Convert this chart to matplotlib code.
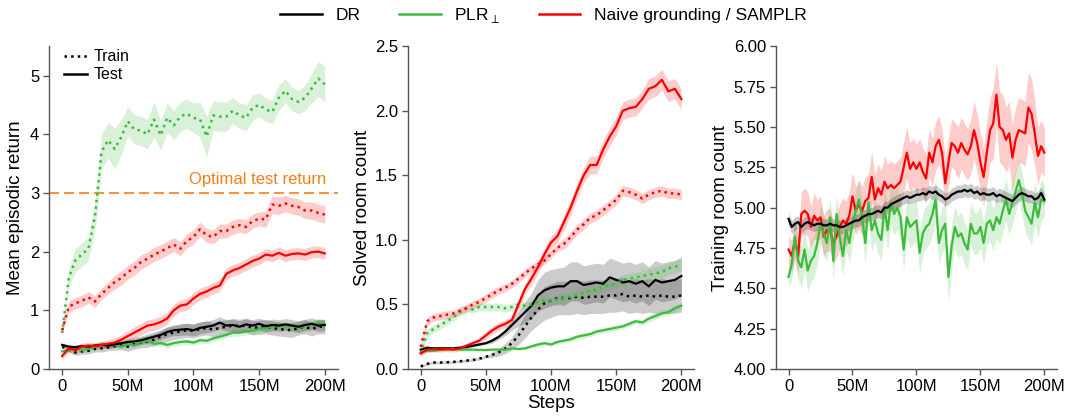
import numpy as np
import matplotlib
matplotlib.use("Agg")
import matplotlib.pyplot as plt
from matplotlib.lines import Line2D

plt.rcParams['font.family'] = ['Liberation Sans', 'DejaVu Sans']

# ---- data: steps in millions ----
steps5 = np.arange(0, 201, 5)      # panels 1, 2
steps25 = np.arange(0, 200.1, 2.5)  # panel 3

# Panel 1: mean episodic return
ret_plr_train = [0.61, 1.55, 1.85, 1.95, 2.05, 2.6, 3.7, 3.9, 3.75, 3.95, 4.22, 4.08, 4.06, 4.0, 4.25,
                 3.98, 4.28, 4.15, 4.3, 4.35, 4.28, 4.25, 3.96, 4.32, 4.3, 4.3, 4.4, 4.32, 4.28, 4.45,
                 4.5, 4.42, 4.38, 4.62, 4.74, 4.6, 4.55, 4.62, 4.78, 4.95, 4.85]
ret_plr_train_sd = [0.05, 0.15, 0.2, 0.2, 0.2, 0.25, 0.3, 0.3, 0.35, 0.3, 0.25, 0.25, 0.25, 0.25, 0.3,
                    0.25, 0.25, 0.25, 0.25, 0.25, 0.25, 0.3, 0.35, 0.25, 0.25, 0.25, 0.22, 0.22, 0.22, 0.22,
                    0.2, 0.2, 0.2, 0.22, 0.2, 0.2, 0.2, 0.22, 0.25, 0.3, 0.3]
ret_samplr_train = [0.66, 1.06, 1.12, 1.16, 1.22, 1.15, 1.28, 1.38, 1.48, 1.55, 1.65, 1.72, 1.82, 1.88, 1.95,
                    2.0, 2.06, 2.12, 2.05, 2.18, 2.25, 2.38, 2.28, 2.25, 2.35, 2.35, 2.42, 2.45, 2.42, 2.52,
                    2.56, 2.55, 2.8, 2.78, 2.82, 2.78, 2.76, 2.7, 2.7, 2.66, 2.63]
ret_samplr_train_sd = [0.05, 0.1, 0.1, 0.1, 0.1, 0.1, 0.1, 0.1, 0.12, 0.12, 0.12, 0.12, 0.12, 0.12, 0.12,
                       0.12, 0.12, 0.12, 0.12, 0.12, 0.12, 0.12, 0.12, 0.12, 0.12, 0.12, 0.12, 0.12, 0.12, 0.12,
                       0.12, 0.14, 0.15, 0.15, 0.14, 0.14, 0.14, 0.14, 0.15, 0.15, 0.15]
ret_samplr_test = [0.22, 0.35, 0.32, 0.38, 0.4, 0.39, 0.41, 0.43, 0.45, 0.5, 0.56, 0.62, 0.68, 0.74, 0.76,
                   0.8, 0.86, 1.0, 1.08, 1.1, 1.2, 1.28, 1.32, 1.38, 1.42, 1.62, 1.68, 1.72, 1.78, 1.84,
                   1.88, 1.95, 1.93, 1.98, 1.93, 1.96, 1.97, 1.95, 1.99, 2.0, 1.97]
ret_samplr_test_sd = [0.05, 0.06, 0.06, 0.06, 0.06, 0.06, 0.06, 0.07, 0.08, 0.08, 0.09, 0.1, 0.1, 0.1, 0.1,
                      0.1, 0.1, 0.1, 0.1, 0.1, 0.1, 0.1, 0.1, 0.1, 0.1, 0.1, 0.1, 0.1, 0.1, 0.1,
                      0.1, 0.1, 0.1, 0.1, 0.1, 0.1, 0.1, 0.1, 0.1, 0.1, 0.1]
ret_dr_test = [0.41, 0.38, 0.37, 0.39, 0.38, 0.4, 0.41, 0.4, 0.42, 0.44, 0.46, 0.47, 0.49, 0.52, 0.55,
               0.58, 0.63, 0.66, 0.67, 0.68, 0.66, 0.7, 0.72, 0.74, 0.79, 0.74, 0.75, 0.72, 0.76, 0.74,
               0.77, 0.73, 0.75, 0.74, 0.76, 0.74, 0.72, 0.75, 0.77, 0.74, 0.75]
ret_dr_test_sd = [0.03, 0.03, 0.04, 0.04, 0.04, 0.04, 0.05, 0.05, 0.05, 0.06, 0.06, 0.07, 0.07, 0.08, 0.08,
                  0.08, 0.09, 0.09, 0.1, 0.1, 0.1, 0.1, 0.1, 0.1, 0.1, 0.1, 0.1, 0.1, 0.1, 0.1,
                  0.1, 0.1, 0.1, 0.1, 0.1, 0.1, 0.1, 0.1, 0.1, 0.1, 0.1]
ret_dr_train = [0.38, 0.33, 0.28, 0.3, 0.31, 0.34, 0.35, 0.37, 0.39, 0.4, 0.38, 0.42, 0.45, 0.47, 0.5,
                0.55, 0.59, 0.62, 0.64, 0.66, 0.65, 0.68, 0.7, 0.67, 0.7, 0.72, 0.74, 0.73, 0.74, 0.7,
                0.71, 0.72, 0.7, 0.68, 0.67, 0.66, 0.7, 0.72, 0.68, 0.72, 0.72]
ret_dr_train_sd = [0.03, 0.04, 0.05, 0.05, 0.05, 0.05, 0.06, 0.06, 0.07, 0.07, 0.08, 0.08, 0.09, 0.1, 0.1,
                   0.11, 0.12, 0.12, 0.12, 0.12, 0.12, 0.12, 0.12, 0.12, 0.12, 0.12, 0.12, 0.12, 0.12, 0.12,
                   0.12, 0.12, 0.12, 0.12, 0.12, 0.12, 0.12, 0.12, 0.12, 0.12, 0.12]
ret_plr_test = [0.3, 0.32, 0.36, 0.32, 0.34, 0.38, 0.42, 0.4, 0.41, 0.38, 0.42, 0.4, 0.46, 0.48, 0.43,
                0.44, 0.41, 0.44, 0.46, 0.47, 0.45, 0.49, 0.48, 0.52, 0.55, 0.58, 0.62, 0.62, 0.64, 0.65,
                0.68, 0.7, 0.72, 0.74, 0.72, 0.74, 0.7, 0.74, 0.75, 0.78, 0.76]
ret_plr_test_sd = [0.04, 0.04, 0.04, 0.04, 0.04, 0.04, 0.04, 0.04, 0.04, 0.04, 0.04, 0.04, 0.05, 0.05, 0.05,
                   0.05, 0.05, 0.05, 0.05, 0.05, 0.05, 0.05, 0.05, 0.05, 0.05, 0.05, 0.06, 0.06, 0.06, 0.06,
                   0.06, 0.06, 0.06, 0.06, 0.06, 0.06, 0.07, 0.07, 0.07, 0.08, 0.08]
OPTIMAL_RETURN = 3.0

# Panel 2: solved room count
sol_samplr_test = [0.12, 0.15, 0.155, 0.15, 0.155, 0.15, 0.16, 0.18, 0.2, 0.22, 0.26, 0.3, 0.33, 0.35, 0.38,
                   0.5, 0.62, 0.7, 0.79, 0.89, 0.98, 1.03, 1.14, 1.25, 1.38, 1.5, 1.58, 1.58, 1.7, 1.8,
                   1.88, 2.0, 2.02, 2.03, 2.09, 2.17, 2.19, 2.24, 2.15, 2.17, 2.09]
sol_samplr_test_sd = [0.02, 0.02, 0.02, 0.02, 0.02, 0.02, 0.02, 0.02, 0.02, 0.02, 0.03, 0.03, 0.03, 0.03, 0.03,
                      0.04, 0.04, 0.05, 0.05, 0.05, 0.05, 0.05, 0.06, 0.06, 0.06, 0.06, 0.07, 0.07, 0.07, 0.07,
                      0.07, 0.07, 0.07, 0.07, 0.07, 0.08, 0.08, 0.08, 0.08, 0.08, 0.08]
sol_samplr_train = [0.17, 0.37, 0.4, 0.41, 0.42, 0.43, 0.45, 0.47, 0.5, 0.52, 0.55, 0.58, 0.61, 0.63, 0.66,
                    0.7, 0.74, 0.78, 0.81, 0.84, 0.89, 0.94, 0.97, 1.02, 1.08, 1.12, 1.17, 1.19, 1.23, 1.27,
                    1.31, 1.38, 1.37, 1.35, 1.32, 1.35, 1.37, 1.38, 1.36, 1.36, 1.35]
sol_samplr_train_sd = [0.02, 0.03, 0.03, 0.03, 0.03, 0.03, 0.03, 0.03, 0.03, 0.03, 0.03, 0.03, 0.03, 0.03, 0.03,
                       0.03, 0.03, 0.03, 0.03, 0.03, 0.03, 0.03, 0.04, 0.04, 0.04, 0.04, 0.04, 0.04, 0.04, 0.04,
                       0.04, 0.04, 0.04, 0.04, 0.04, 0.04, 0.04, 0.04, 0.04, 0.04, 0.04]
sol_dr_test = [0.15, 0.165, 0.16, 0.16, 0.16, 0.16, 0.165, 0.17, 0.18, 0.19, 0.2, 0.22, 0.25, 0.29, 0.34,
               0.39, 0.44, 0.49, 0.57, 0.61, 0.63, 0.64, 0.64, 0.68, 0.68, 0.65, 0.66, 0.67, 0.66, 0.71,
               0.69, 0.67, 0.68, 0.66, 0.68, 0.64, 0.69, 0.67, 0.68, 0.69, 0.72]
sol_dr_test_sd = [0.01, 0.01, 0.01, 0.01, 0.01, 0.01, 0.01, 0.01, 0.01, 0.01, 0.01, 0.02, 0.02, 0.03, 0.04,
                  0.06, 0.08, 0.1, 0.12, 0.14, 0.14, 0.14, 0.15, 0.15, 0.15, 0.15, 0.15, 0.15, 0.15, 0.15,
                  0.15, 0.15, 0.15, 0.15, 0.15, 0.15, 0.15, 0.15, 0.15, 0.15, 0.15]
sol_dr_train = [0.02, 0.04, 0.05, 0.05, 0.052, 0.055, 0.06, 0.065, 0.07, 0.08, 0.095, 0.11, 0.13, 0.16, 0.2,
                0.26, 0.33, 0.4, 0.46, 0.51, 0.53, 0.55, 0.55, 0.55, 0.56, 0.55, 0.56, 0.56, 0.56, 0.57,
                0.57, 0.58, 0.56, 0.57, 0.56, 0.57, 0.56, 0.57, 0.56, 0.56, 0.57]
sol_dr_train_sd = [0.01, 0.01, 0.01, 0.01, 0.01, 0.01, 0.01, 0.01, 0.01, 0.01, 0.01, 0.02, 0.03, 0.04, 0.05,
                   0.07, 0.09, 0.1, 0.12, 0.13, 0.13, 0.13, 0.13, 0.13, 0.13, 0.13, 0.13, 0.13, 0.13, 0.13,
                   0.13, 0.13, 0.13, 0.13, 0.13, 0.13, 0.13, 0.13, 0.13, 0.13, 0.13]
sol_plr_train = [0.12, 0.28, 0.31, 0.34, 0.37, 0.4, 0.44, 0.47, 0.46, 0.48, 0.48, 0.48, 0.48, 0.47, 0.48,
                 0.5, 0.49, 0.5, 0.52, 0.53, 0.53, 0.54, 0.55, 0.56, 0.57, 0.59, 0.61, 0.61, 0.64, 0.65,
                 0.66, 0.69, 0.7, 0.71, 0.72, 0.73, 0.74, 0.75, 0.78, 0.79, 0.81]
sol_plr_train_sd = [0.02, 0.03, 0.03, 0.03, 0.03, 0.03, 0.03, 0.03, 0.03, 0.03, 0.03, 0.03, 0.03, 0.03, 0.03,
                    0.03, 0.03, 0.03, 0.03, 0.03, 0.03, 0.03, 0.04, 0.04, 0.04, 0.04, 0.04, 0.04, 0.04, 0.04,
                    0.04, 0.04, 0.04, 0.04, 0.04, 0.05, 0.05, 0.05, 0.05, 0.05, 0.05]
sol_plr_test = [0.13, 0.14, 0.14, 0.15, 0.15, 0.155, 0.15, 0.15, 0.15, 0.148, 0.147, 0.15, 0.15, 0.15, 0.16,
                0.155, 0.16, 0.175, 0.19, 0.2, 0.19, 0.21, 0.22, 0.23, 0.25, 0.26, 0.27, 0.29, 0.3, 0.31,
                0.32, 0.33, 0.35, 0.37, 0.36, 0.39, 0.41, 0.43, 0.44, 0.47, 0.49]
sol_plr_test_sd = [0.01, 0.01, 0.01, 0.01, 0.01, 0.01, 0.01, 0.01, 0.01, 0.01, 0.01, 0.01, 0.01, 0.01, 0.01,
                   0.01, 0.01, 0.015, 0.015, 0.015, 0.015, 0.015, 0.015, 0.02, 0.02, 0.02, 0.02, 0.02, 0.02, 0.02,
                   0.02, 0.02, 0.02, 0.02, 0.02, 0.025, 0.025, 0.025, 0.025, 0.025, 0.025]

# Panel 3: training room count (2.5M grid)
room_samplr = [4.74, 4.70, 4.80, 4.70, 4.96, 4.98, 4.96, 4.88, 4.95, 4.92, 4.94, 4.82, 4.86, 4.86, 4.78, 4.82,
               4.88, 4.92, 4.90, 4.95, 5.07, 4.98, 5.02, 4.98, 5.04, 5.06, 5.19, 5.05, 5.12, 5.08, 5.16, 5.12,
               5.14, 5.12, 5.14, 5.16, 5.25, 5.34, 5.24, 5.28, 5.24, 5.28, 5.22, 5.18, 5.34, 5.28, 5.38, 5.42,
               5.34, 5.15, 5.28, 5.40, 5.38, 5.34, 5.40, 5.36, 5.33, 5.38, 5.48, 5.40, 5.28, 5.19, 5.34, 5.48,
               5.52, 5.70, 5.50, 5.48, 5.42, 5.46, 5.31, 5.42, 5.48, 5.47, 5.46, 5.62, 5.58, 5.46, 5.32, 5.38,
               5.34]
room_samplr_sd = [0.08, 0.1, 0.12, 0.12, 0.14, 0.14, 0.14, 0.13, 0.14, 0.13, 0.13, 0.13, 0.13, 0.13, 0.13, 0.13,
                  0.14, 0.14, 0.14, 0.15, 0.15, 0.15, 0.15, 0.15, 0.15, 0.15, 0.16, 0.15, 0.15, 0.15, 0.16, 0.15,
                  0.15, 0.15, 0.15, 0.15, 0.16, 0.16, 0.16, 0.15, 0.15, 0.15, 0.15, 0.15, 0.15, 0.15, 0.15, 0.15,
                  0.15, 0.15, 0.15, 0.15, 0.15, 0.16, 0.16, 0.16, 0.16, 0.17, 0.18, 0.18, 0.18, 0.18, 0.2, 0.2,
                  0.22, 0.2, 0.22, 0.22, 0.2, 0.2, 0.2, 0.2, 0.2, 0.2, 0.2, 0.22, 0.22, 0.2, 0.18, 0.16,
                  0.15]
room_dr = [4.93, 4.88, 4.90, 4.91, 4.88, 4.90, 4.91, 4.90, 4.89, 4.90, 4.90, 4.89, 4.89, 4.90, 4.89, 4.89,
           4.88, 4.88, 4.89, 4.90, 4.91, 4.92, 4.92, 4.94, 4.95, 4.96, 4.96, 4.97, 4.98, 4.97, 5.00, 5.00,
           5.02, 5.03, 5.04, 5.05, 5.06, 5.07, 5.06, 5.07, 5.08, 5.08, 5.09, 5.08, 5.10, 5.09, 5.10, 5.08,
           5.07, 5.05, 5.06, 5.08, 5.09, 5.10, 5.10, 5.11, 5.10, 5.11, 5.09, 5.10, 5.08, 5.09, 5.08, 5.08,
           5.09, 5.07, 5.08, 5.07, 5.06, 5.05, 5.04, 5.06, 5.08, 5.09, 5.08, 5.07, 5.07, 5.05, 5.06, 5.09,
           5.05]
room_dr_sd = [0.04, 0.04, 0.04, 0.04, 0.04, 0.04, 0.04, 0.04, 0.04, 0.04, 0.04, 0.04, 0.04, 0.04, 0.04, 0.04,
              0.04, 0.04, 0.04, 0.04, 0.04, 0.04, 0.04, 0.04, 0.04, 0.04, 0.04, 0.04, 0.04, 0.04, 0.04, 0.04,
              0.04, 0.04, 0.04, 0.04, 0.04, 0.04, 0.04, 0.04, 0.04, 0.04, 0.04, 0.04, 0.04, 0.04, 0.04, 0.04,
              0.04, 0.04, 0.04, 0.04, 0.04, 0.04, 0.04, 0.04, 0.04, 0.04, 0.04, 0.04, 0.04, 0.04, 0.04, 0.04,
              0.04, 0.04, 0.04, 0.04, 0.04, 0.04, 0.04, 0.04, 0.04, 0.04, 0.04, 0.04, 0.04, 0.04, 0.04, 0.04,
              0.04]
room_plr = [4.57, 4.65, 4.82, 4.67, 4.63, 4.74, 4.61, 4.67, 4.70, 4.78, 4.90, 4.84, 4.78, 4.94, 4.67, 4.96,
            4.82, 4.70, 4.86, 4.78, 4.90, 4.98, 5.05, 4.94, 4.78, 5.03, 4.86, 4.92, 4.84, 4.80, 5.00, 4.86,
            5.03, 4.96, 5.00, 4.94, 4.74, 4.94, 4.88, 4.90, 4.92, 4.72, 4.84, 4.88, 4.90, 4.96, 5.05, 4.78,
            4.86, 4.90, 4.57, 4.76, 4.88, 4.82, 4.84, 4.78, 4.74, 4.90, 4.84, 4.84, 4.88, 4.78, 4.90, 4.92,
            4.86, 4.94, 4.90, 4.98, 5.05, 4.96, 5.03, 5.10, 5.17, 5.09, 4.98, 4.94, 4.90, 5.03, 4.94, 5.05,
            5.04]
room_plr_sd = [0.06, 0.1, 0.12, 0.12, 0.13, 0.13, 0.13, 0.13, 0.13, 0.13, 0.12, 0.12, 0.12, 0.12, 0.12, 0.12,
               0.12, 0.12, 0.12, 0.12, 0.12, 0.12, 0.12, 0.12, 0.13, 0.13, 0.13, 0.13, 0.13, 0.13, 0.13, 0.13,
               0.13, 0.13, 0.13, 0.13, 0.13, 0.13, 0.13, 0.13, 0.13, 0.13, 0.13, 0.13, 0.13, 0.13, 0.13, 0.13,
               0.14, 0.14, 0.15, 0.14, 0.13, 0.13, 0.13, 0.13, 0.13, 0.13, 0.13, 0.13, 0.13, 0.13, 0.13, 0.13,
               0.13, 0.13, 0.13, 0.13, 0.13, 0.13, 0.13, 0.13, 0.13, 0.13, 0.13, 0.13, 0.13, 0.13, 0.13, 0.13,
               0.1]

C_DR, C_PLR, C_SAM = "black", "#3dbb3d", "#ff0000"
C_OPT = "#fb7d17"
XT = [0, 50, 100, 150, 200]
XTL = ["0", "50M", "100M", "150M", "200M"]


def curve(ax, x, y, sd, color, ls="-", z=2):
    y = np.asarray(y); sd = np.asarray(sd)
    ax.fill_between(x, y - sd, y + sd, color=color, alpha=0.2, lw=0, zorder=z)
    ax.plot(x, y, color=color, ls=ls, lw=1.6 if ls == "-" else 1.8, zorder=z + 0.5)


def style(ax):
    for s in ("top", "right"):
        ax.spines[s].set_visible(False)
    for s in ("left", "bottom"):
        ax.spines[s].set_color("#555555")
        ax.spines[s].set_linewidth(1.0)
    ax.tick_params(direction="out", length=4, width=1, color="#555555", labelsize=12, pad=3)
    ax.set_xlim(-10, 210)
    ax.set_xticks(XT)
    ax.set_xticklabels(XTL)


fig = plt.figure(figsize=(10.7, 4.16), dpi=100)
ax1 = fig.add_axes([0.0458, 0.113, 0.270, 0.776])
ax2 = fig.add_axes([0.381, 0.113, 0.268, 0.776])
ax3 = fig.add_axes([0.725, 0.113, 0.263, 0.776])

# ---- panel 1 ----
curve(ax1, steps5, ret_plr_train, ret_plr_train_sd, C_PLR, ":")
curve(ax1, steps5, ret_samplr_train, ret_samplr_train_sd, C_SAM, ":")
curve(ax1, steps5, ret_dr_train, ret_dr_train_sd, C_DR, ":")
curve(ax1, steps5, ret_plr_test, ret_plr_test_sd, C_PLR)
curve(ax1, steps5, ret_dr_test, ret_dr_test_sd, C_DR)
curve(ax1, steps5, ret_samplr_test, ret_samplr_test_sd, C_SAM)
ax1.axhline(OPTIMAL_RETURN, color=C_OPT, ls=(0, (6, 3)), lw=1.2, zorder=1)
ax1.text(201, OPTIMAL_RETURN + 0.1, "Optimal test return", color=C_OPT, fontsize=12,
         ha="right", va="bottom")
style(ax1)
ax1.set_ylim(0, 5.5)
ax1.set_yticks([0, 1, 2, 3, 4, 5])
ax1.set_ylabel("Mean episodic return", fontsize=13.5, labelpad=4)
h_tt = [Line2D([], [], color="black", ls=":", lw=1.8), Line2D([], [], color="black", lw=1.8)]
ax1.legend(h_tt, ["Train", "Test"], loc="upper left", bbox_to_anchor=(0.02, 1.02), frameon=False,
           fontsize=11.5, handlelength=1.4, handletextpad=0.45, labelspacing=0.2, borderaxespad=0.2)

# ---- panel 2 ----
curve(ax2, steps5, sol_dr_train, sol_dr_train_sd, C_DR, ":")
curve(ax2, steps5, sol_dr_test, sol_dr_test_sd, C_DR)
curve(ax2, steps5, sol_plr_train, sol_plr_train_sd, C_PLR, ":")
curve(ax2, steps5, sol_plr_test, sol_plr_test_sd, C_PLR)
curve(ax2, steps5, sol_samplr_train, sol_samplr_train_sd, C_SAM, ":")
curve(ax2, steps5, sol_samplr_test, sol_samplr_test_sd, C_SAM)
style(ax2)
ax2.set_ylim(0, 2.5)
ax2.set_yticks([0, 0.5, 1.0, 1.5, 2.0, 2.5])
ax2.set_yticklabels(["0.0", "0.5", "1.0", "1.5", "2.0", "2.5"])
ax2.set_ylabel("Solved room count", fontsize=13.5, labelpad=3)
ax2.set_xlabel("Steps", fontsize=13.5, labelpad=1)

# ---- panel 3 ----
curve(ax3, steps25, room_samplr, room_samplr_sd, C_SAM)
curve(ax3, steps25, room_plr, room_plr_sd, C_PLR)
curve(ax3, steps25, room_dr, room_dr_sd, C_DR)
style(ax3)
ax3.set_ylim(4.0, 6.0)
ax3.set_yticks(np.arange(4.0, 6.01, 0.25))
ax3.set_yticklabels([f"{v:.2f}" for v in np.arange(4.0, 6.01, 0.25)])
ax3.set_ylabel("Training room count", fontsize=13.5, labelpad=3)

# ---- top legend ----
handles = [Line2D([], [], color=c, lw=1.8) for c in (C_DR, C_PLR, C_SAM)]
labels = ["DR", r"PLR$_{\perp}$", "Naive grounding / SAMPLR"]
fig.legend(handles, labels, loc="center", bbox_to_anchor=(0.508, 0.963), ncol=3, frameon=False,
           fontsize=12.5, handlelength=2.4, handletextpad=0.8, columnspacing=2.2)

fig.savefig("out.png", dpi=100)
